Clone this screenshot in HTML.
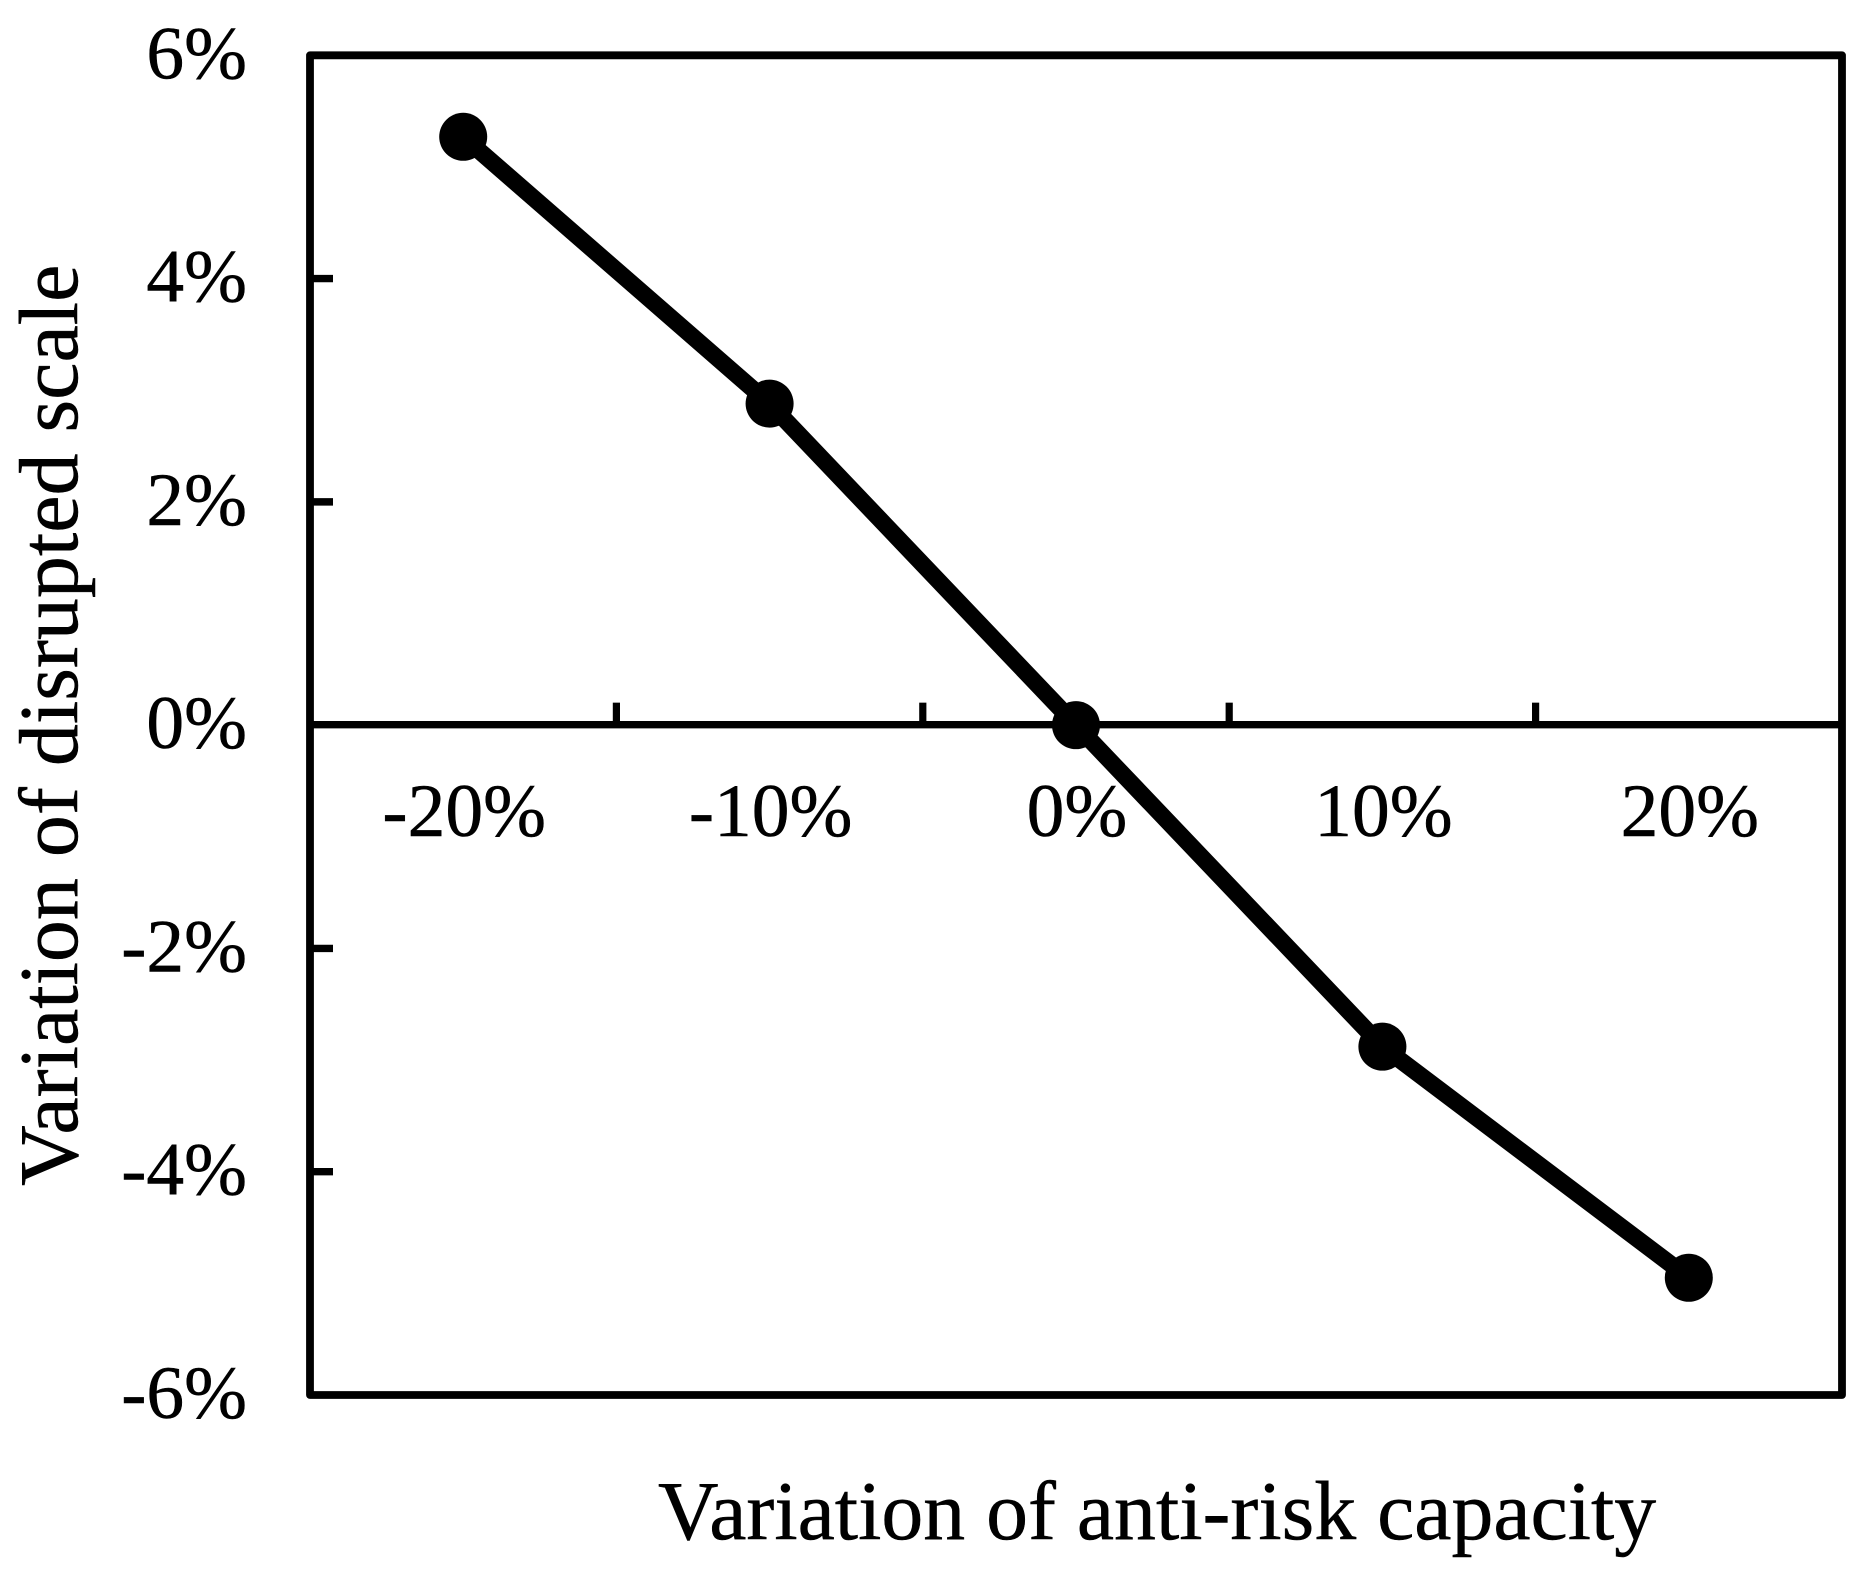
<!DOCTYPE html>
<html>
<head>
<meta charset="utf-8">
<title>Variation of disrupted scale vs anti-risk capacity</title>
<style>
  html, body { margin: 0; padding: 0; background: #fff; }
  #chart { display: block; width: 1872px; height: 1586px; }
  text { font-family: "Liberation Serif", "Times New Roman", serif; fill: #000; stroke: #000; stroke-width: 0.5px; }
</style>
</head>
<body>
<svg id="chart" xmlns="http://www.w3.org/2000/svg" width="1872" height="1586" viewBox="0 0 1872 1586">
  <rect x="0" y="0" width="1872" height="1586" fill="#ffffff"></rect>
  <g id="ticks"></g>
  <line id="zero-line" stroke="#000" stroke-width="7.4"></line>
  <rect id="frame" fill="none" stroke="#000" stroke-width="7.8" stroke-linejoin="round"></rect>
  <g id="series"></g>
  <g id="y-labels"></g>
  <g id="x-labels"></g>
  <text x="658" y="1539" font-size="83.8">Variation of anti-risk capacity</text>
  <text transform="translate(77 1186) rotate(-90)" font-size="84">Variation of disrupted scale</text>
</svg>
<script>
const categories = ['-20%', '-10%', '0%', '10%', '20%'];
const seriesValues = [5.27, 2.88, 0, -2.88, -4.95];
const yTickValues = [6, 4, 2, 0, -2, -4, -6];
const yTickLabels = ['6%', '4%', '2%', '0%', '-2%', '-4%', '-6%'];

const NS = 'http://www.w3.org/2000/svg';
const plot = { left: 310, right: 1842, top: 55.3, bottom: 1395 };
const yMin = -6;
const yMax = 6;

function xBand() {
  return (plot.right - plot.left) / categories.length;
}
function xCenter(i) {
  return plot.left + xBand() * (i + 0.5);
}
function xEdge(i) {
  return plot.left + xBand() * i;
}
function yScale(v) {
  return plot.bottom - (v - yMin) / (yMax - yMin) * (plot.bottom - plot.top);
}
function make(tag, attrs, parent) {
  const el = document.createElementNS(NS, tag);
  for (const k in attrs) el.setAttribute(k, attrs[k]);
  parent.appendChild(el);
  return el;
}

const frame = document.getElementById('frame');
frame.setAttribute('x', plot.left);
frame.setAttribute('y', plot.top);
frame.setAttribute('width', plot.right - plot.left);
frame.setAttribute('height', plot.bottom - plot.top);

const zeroLine = document.getElementById('zero-line');
zeroLine.setAttribute('x1', plot.left);
zeroLine.setAttribute('x2', plot.right);
zeroLine.setAttribute('y1', yScale(0) - 0.5);
zeroLine.setAttribute('y2', yScale(0) - 0.5);

const ticksGroup = document.getElementById('ticks');
const yLabelGroup = document.getElementById('y-labels');
const xLabelGroup = document.getElementById('x-labels');
const seriesGroup = document.getElementById('series');

yTickValues.forEach(function (v, i) {
  if (v !== yMin && v !== yMax && v !== 0) {
    const t = make('line', { x1: plot.left, x2: plot.left + 23, y1: yScale(v), y2: yScale(v), stroke: '#000', 'stroke-width': 7.4 }, ticksGroup);
    
    
  }
  const label = make('text', { x: 247, y: yScale(v) + 23, 'text-anchor': 'end', 'font-size': 75.5 }, yLabelGroup);
  label.textContent = yTickLabels[i];
  
  
});

for (let i = 1; i < categories.length; i++) {
  const t = make('line', { x1: xEdge(i), x2: xEdge(i), y1: yScale(0), y2: yScale(0) - 22.5, stroke: '#000', 'stroke-width': 7.2 }, ticksGroup);
  
  
}

categories.forEach(function (c, i) {
  const label = make('text', { x: xCenter(i) + 1, y: yScale(0) + 111, 'text-anchor': 'middle', 'font-size': 75.5 }, xLabelGroup);
  label.textContent = c;
  
  
});

const linePoints = seriesValues.map(function (v, i) {
  return xCenter(i) + ',' + yScale(v);
}).join(' ');
const seriesLine = make('polyline', { points: linePoints, fill: 'none', stroke: '#000', 'stroke-width': 17, 'stroke-linejoin': 'round' }, seriesGroup);



seriesValues.forEach(function (v, i) {
  const m = make('circle', { cx: xCenter(i), cy: yScale(v), r: 24, fill: '#000' }, seriesGroup);
  
  
});
</script>
</body>
</html>
